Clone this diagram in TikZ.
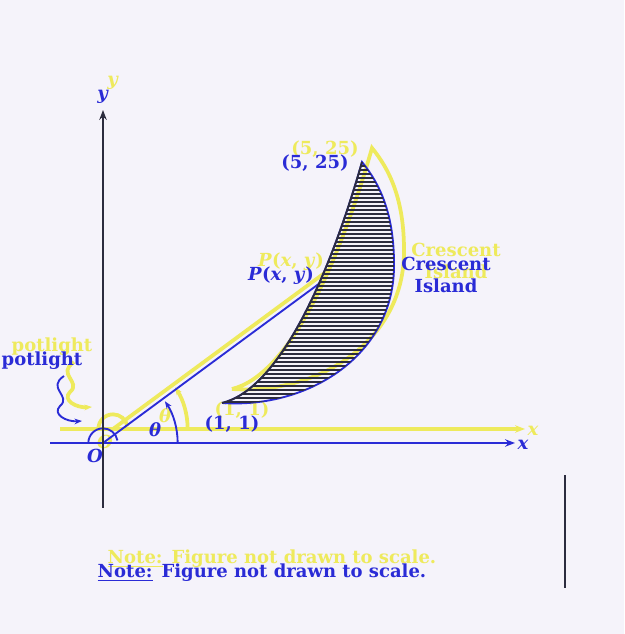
\documentclass[tikz,border=0pt]{standalone}
\usepackage{fontspec}
\setmainfont{DejaVu Serif}
\usepackage{tikz}
\usetikzlibrary{arrows.meta,calc}
\definecolor{iink}{HTML}{2A2BD6}
\definecolor{ighost}{HTML}{EEEA5C}
\definecolor{ihatch}{HTML}{2C2C3E}
\definecolor{ipaper}{HTML}{F5F3FA}
\tikzset{
  axis/.style={-{Stealth[length=2.6mm]}, line width=2pt},
  edge/.style={line width=1.4pt},
  lbl/.style={font=\fontsize{13.5}{16.5}\selectfont\bfseries, inner sep=0pt},
  blueink/.style={color=iink},
  ghostink/.style={color=ighost, line width=2.8pt},
  hatchline/.style={draw=ihatch, line width=1.4pt},
}
\newcommand\islandlayer[1]{%
  \coordinate (o) at (103,191);
  \coordinate (xs) at (50,191);
  \coordinate (xe) at (515,191);
  \coordinate (a) at (222,231);
  \coordinate (p) at (320,351);
  \coordinate (b) at (362,472);
  \coordinate (r) at (394,370);
  \draw[axis, #1] (xs) -- (xe);
  \draw[edge, #1] (o) -- (p);
  \draw[edge, #1, -{Stealth[length=2mm]}] ($(o)+(56pt,0)$) arc[start angle=0, end angle=34, radius=56pt];
  \draw[edge, #1] ($(o)+(-11pt,0)$) arc[start angle=180, end angle=10, radius=11pt];
  \draw[edge, #1] (a) .. controls (280,245) and (330,360) .. (b) .. controls (380,450) and (394,420) .. (r) .. controls (395,280) and (310,225) .. (a);
  \coordinate (sa) at (64,258);
  \coordinate (sb) at (82,213);
  \draw[edge, #1, -{Stealth[length=2mm]}] (sa) .. controls (46,246) and (72,238) .. (60,228) .. controls (52,220) and (66,212) .. (sb);
  \node[lbl, #1] (xl) at (523,189) {\textit{x}};
  \node[lbl, #1] (ol) at (95,178) {\textit{O}};
  \node[lbl, #1] (th) at (155,204) {\textit{θ}};
  \node[lbl, #1] (al) at (232,210) {(1, 1)};
  \node[lbl, #1] (bl) at (315,471) {(5, 25)};
  \node[lbl, #1] (pl) at (281,358) {\textit{P}(\textit{x}, \textit{y})};
  \node[lbl, #1, align=center] (cl) at (446,359) {Crescent\\Island};
  \node[lbl, #1] (sl) at (42,273) {potlight};
  \node[lbl, #1] (yl) at (103,537) {\textit{y}};
  \node[lbl, #1] (nt) at (262,61) {\underline{Note:}\enspace Figure not drawn to scale.};
}

\begin{document}
\begin{tikzpicture}[x=0.75pt, y=0.75pt]
  \fill[ipaper] (0,0) rectangle (624,634);
  \useasboundingbox (0,0) rectangle (624,634);
  \begin{scope}[shift={(10,14)}]
    \islandlayer{ghostink}
  \end{scope}
  \islandlayer{blueink}
  \coordinate (ys) at (103,126);
  \coordinate (ye) at (103,524);
  \draw[axis, ihatch] (ys) -- (ye);
  \begin{scope}
    \clip (a) .. controls (280,245) and (330,360) .. (b) .. controls (380,450) and (394,420) .. (r) .. controls (395,280) and (310,225) .. (a) -- cycle;
    \foreach \yy in {228,232,...,476}
      \draw[hatchline] (200,\yy) -- (400,\yy);
  \end{scope}
  \draw[edge, ihatch] (a) .. controls (280,245) and (330,360) .. (b);
  \coordinate (ms) at (565,46);
  \coordinate (me) at (565,159);
  \draw[ihatch, line width=1.2pt] (ms) -- (me);
\end{tikzpicture}
\end{document}
